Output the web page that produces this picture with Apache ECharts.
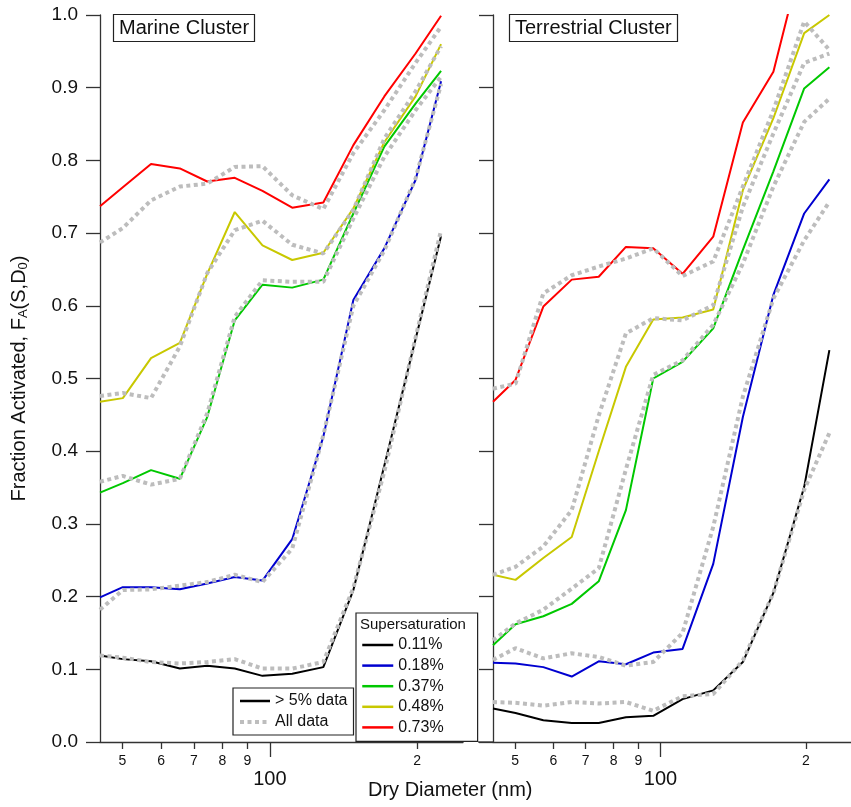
<!DOCTYPE html>
<html>
<head>
<meta charset="utf-8">
<title>Fraction activated vs dry diameter</title>
<script src="https://cdn.jsdelivr.net/npm/echarts@6.0.0/dist/echarts.min.js"></script>
<style>
  html, body { margin: 0; padding: 0; background: #fff; }
  #chart { width: 851px; height: 807px; }
</style>
</head>
<body>
<div id="chart"></div>
<script>
// Dry diameter bins (nm)
const diameters = [45, 50.1, 57.2, 65.5, 74.5, 84.8, 96.6, 111.1, 128.6, 148.1, 171.3, 198.4, 223.7];

// Supersaturation levels and their colours
const ssLabels = ['0.11%', '0.18%', '0.37%', '0.48%', '0.73%'];
const ssColors = ['#000000', '#0000d0', '#00c800', '#c8c800', '#ff0000'];

// Marine cluster, > 5% data
const marine011 = [0.119, 0.114, 0.111, 0.101, 0.105, 0.101, 0.091, 0.094, 0.103, 0.209, 0.380, 0.554, 0.696];
const marine018 = [0.199, 0.213, 0.213, 0.210, 0.218, 0.227, 0.222, 0.279, 0.420, 0.608, 0.679, 0.773, 0.909];
const marine037 = [0.343, 0.356, 0.374, 0.362, 0.447, 0.580, 0.629, 0.625, 0.636, 0.727, 0.819, 0.878, 0.923];
const marine048 = [0.468, 0.473, 0.528, 0.549, 0.644, 0.729, 0.683, 0.663, 0.673, 0.734, 0.825, 0.888, 0.960];
const marine073 = [0.737, 0.763, 0.795, 0.789, 0.771, 0.776, 0.758, 0.735, 0.742, 0.821, 0.888, 0.947, 0.999];

// Marine cluster, all data
const marineAll011 = [0.119, 0.116, 0.110, 0.108, 0.110, 0.114, 0.101, 0.101, 0.110, 0.212, 0.372, 0.556, 0.704];
const marineAll018 = [0.182, 0.209, 0.210, 0.215, 0.220, 0.230, 0.220, 0.266, 0.422, 0.600, 0.676, 0.775, 0.905];
const marineAll037 = [0.358, 0.366, 0.354, 0.362, 0.452, 0.585, 0.635, 0.633, 0.633, 0.720, 0.805, 0.869, 0.915];
const marineAll048 = [0.476, 0.480, 0.473, 0.544, 0.645, 0.704, 0.717, 0.684, 0.672, 0.732, 0.830, 0.895, 0.957];
const marineAll073 = [0.687, 0.707, 0.745, 0.764, 0.768, 0.791, 0.792, 0.752, 0.733, 0.810, 0.869, 0.934, 0.984];

// Terrestrial cluster, > 5% data
const terr011 = [0.046, 0.040, 0.030, 0.026, 0.026, 0.034, 0.036, 0.059, 0.071, 0.110, 0.205, 0.351, 0.539];
const terr018 = [0.109, 0.108, 0.103, 0.090, 0.111, 0.107, 0.123, 0.128, 0.245, 0.447, 0.615, 0.727, 0.774];
const terr037 = [0.133, 0.162, 0.173, 0.190, 0.221, 0.319, 0.500, 0.523, 0.569, 0.677, 0.785, 0.899, 0.928];
const terr048 = [0.230, 0.223, 0.253, 0.282, 0.400, 0.516, 0.581, 0.584, 0.595, 0.759, 0.858, 0.975, 1.000];
const terr073 = [0.468, 0.498, 0.599, 0.636, 0.640, 0.681, 0.679, 0.644, 0.695, 0.852, 0.922, 1.090, null];

// Terrestrial cluster, all data
const terrAll011 = [0.055, 0.054, 0.050, 0.055, 0.053, 0.055, 0.043, 0.063, 0.066, 0.112, 0.205, 0.347, 0.425];
const terrAll018 = [0.113, 0.129, 0.115, 0.122, 0.117, 0.105, 0.110, 0.150, 0.296, 0.475, 0.610, 0.690, 0.743];
const terrAll037 = [0.140, 0.163, 0.182, 0.211, 0.239, 0.375, 0.505, 0.525, 0.574, 0.658, 0.764, 0.853, 0.885];
const terrAll048 = [0.230, 0.241, 0.269, 0.319, 0.449, 0.562, 0.583, 0.580, 0.601, 0.736, 0.837, 0.934, 0.947];
const terrAll073 = [0.486, 0.493, 0.617, 0.642, 0.654, 0.665, 0.679, 0.641, 0.661, 0.764, 0.869, 0.991, 0.952];

// Axis ticks
const minorTicks = [50, 60, 70, 80, 90, 200];
const majorTicks = [100];

const panels = [
  { title: 'Marine Cluster', solid: [marine011, marine018, marine037, marine048, marine073],
    all: [marineAll011, marineAll018, marineAll037, marineAll048, marineAll073] },
  { title: 'Terrestrial Cluster', solid: [terr011, terr018, terr037, terr048, terr073],
    all: [terrAll011, terrAll018, terrAll037, terrAll048, terrAll073] }
];

const FONT = 'Liberation Sans, Arial, Helvetica, sans-serif';
const AXIS_COLOR = '#333';
const DOT_COLOR = '#bdbdbd';
const DOT_DASH = [4, 3.5];
const X_MIN = 45, X_MAX = 248;

const pair = vals => diameters.map((d, k) => [d, vals[k]]);

const grids = [
  { left: 100, top: 15, width: 363, height: 727 },
  { left: 493, top: 15, width: 362, height: 727 }
];

const xAxes = [];
const yAxes = [];
grids.forEach((g, p) => {
  // minor decade ticks 5..9 and 2
  xAxes.push({
    type: 'log', logBase: 10, gridIndex: p, min: X_MIN, max: X_MAX, position: 'bottom',
    axisLine: { show: true, lineStyle: { color: AXIS_COLOR, width: 1.3 } },
    axisTick: { show: true, customValues: minorTicks, length: 7, lineStyle: { color: AXIS_COLOR, width: 1.3 } },
    axisLabel: {
      show: true, customValues: minorTicks, margin: 12, fontSize: 14, color: '#111', fontFamily: FONT,
      formatter: v => { const r = Math.round(v); return r >= 200 ? String(r / 100) : String(r / 10); }
    },
    splitLine: { show: false }
  });
  // the 100 nm tick
  xAxes.push({
    type: 'log', logBase: 10, gridIndex: p, min: X_MIN, max: X_MAX, position: 'bottom',
    axisLine: { show: false },
    axisTick: { show: true, customValues: majorTicks, length: 15, lineStyle: { color: AXIS_COLOR, width: 1.3 } },
    axisLabel: { show: true, customValues: majorTicks, margin: 27, fontSize: 20, color: '#111', fontFamily: FONT,
      formatter: v => String(Math.round(v)) },
    splitLine: { show: false }
  });
  yAxes.push({
    type: 'value', gridIndex: p, min: 0, max: 1, interval: 0.1,
    axisLine: { show: true, lineStyle: { color: AXIS_COLOR, width: 1.3 } },
    axisTick: { show: true, length: 14, lineStyle: { color: AXIS_COLOR, width: 1.3 } },
    axisLabel: { show: p === 0, margin: 22, fontSize: 19, color: '#111', fontFamily: FONT,
      formatter: v => v.toFixed(1) },
    splitLine: { show: false },
    name: p === 0 ? 'Fraction Activated, F{s|A}(S,D{s|0})' : '',
    nameLocation: 'middle', nameRotate: 90, nameGap: 70,
    nameTextStyle: { fontSize: 20, color: '#111', fontFamily: FONT,
      rich: { s: { fontSize: 13, fontFamily: FONT, color: '#111', padding: [9, 0, 0, 0] } } }
  });
});

const series = [];
panels.forEach((panel, p) => {
  panel.solid.forEach((vals, i) => {
    series.push({
      type: 'line', name: ssLabels[i], xAxisIndex: p * 2, yAxisIndex: p,
      data: pair(vals), symbol: 'none', color: ssColors[i],
      lineStyle: { color: ssColors[i], width: 2 }, z: 2, clip: true
    });
  });
  panel.all.forEach(vals => {
    series.push({
      type: 'line', name: 'All data', xAxisIndex: p * 2, yAxisIndex: p,
      data: pair(vals), symbol: 'none', color: DOT_COLOR,
      lineStyle: { color: DOT_COLOR, width: 4, type: DOT_DASH }, z: 3, clip: true
    });
  });
});
// legend-only entry for the solid line style
series.push({
  type: 'line', name: '> 5% data', xAxisIndex: 0, yAxisIndex: 0, data: [],
  symbol: 'none', color: '#000', lineStyle: { color: '#000', width: 2 }
});

const legendCommon = {
  orient: 'vertical', itemWidth: 31, itemHeight: 14,
  borderColor: '#222', borderWidth: 1.2,
  itemStyle: { opacity: 0 },
  textStyle: { fontSize: 16, color: '#111', fontFamily: FONT }
};

const option = {
  animation: false,
  backgroundColor: '#fff',
  textStyle: { fontFamily: FONT },
  grid: grids,
  xAxis: xAxes,
  yAxis: yAxes,
  title: panels.map((panel, p) => ({
    text: panel.title,
    left: p === 0 ? 113 : 509, top: 14,
    padding: [4, 6, 4, 6],
    borderColor: '#222', borderWidth: 1.2,
    textStyle: { fontSize: 20, fontWeight: 'normal', color: '#111', fontFamily: FONT }
  })),
  legend: [
    Object.assign({}, legendCommon, {
      data: [
        { name: '> 5% data', lineStyle: { width: 2.5, color: '#000' } },
        { name: 'All data', lineStyle: { width: 4, color: DOT_COLOR, type: DOT_DASH } }
      ],
      left: 233, top: 688, itemWidth: 30,
      padding: [5, 6, 5, 5], itemGap: 5
    }),
    Object.assign({}, legendCommon, {
      data: ssLabels.map((s, i) => ({ name: s, lineStyle: { width: 2.5, color: ssColors[i] } })),
      left: 356, top: 613,
      padding: [24, 34, 6, 5], itemGap: 4.6
    })
  ],
  graphic: [
    { type: 'text', left: 360, top: 617, z: 10,
      style: { text: 'Supersaturation', font: '15px ' + FONT, fill: '#111' } },
    { type: 'text', left: 368, top: 780,
      style: { text: 'Dry Diameter (nm)', font: '20px ' + FONT, fill: '#111' } },
    { type: 'line', shape: { x1: 478, y1: 742, x2: 493, y2: 742 },
      style: { stroke: AXIS_COLOR, lineWidth: 1.3 } }
  ],
  series: series
};

const chart = echarts.init(document.getElementById('chart'), null, { renderer: 'canvas' });
chart.setOption(option);
</script>
</body>
</html>
